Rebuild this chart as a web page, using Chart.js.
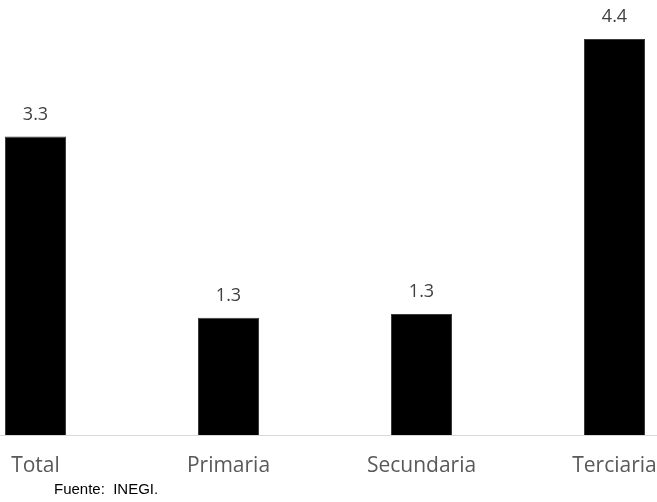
<!DOCTYPE html>
<html>
<head>
<meta charset="utf-8">
<script src="https://cdn.jsdelivr.net/npm/chart.js@4"></script>
<style>
  html, body { margin:0; padding:0; background:#fff; overflow:hidden; width:657px; height:502px; }
  #wrap { position:absolute; left:-61px; top:0; width:772px; height:502px; }
  #src { position:absolute; left:54px; top:480px; font-family:"Liberation Sans", Arial, sans-serif; font-size:15px; line-height:17px; color:#000; white-space:pre; }
</style>
</head>
<body>
<div id="wrap"><canvas id="c" width="772" height="502"></canvas></div>
<div id="src">Fuente:  INEGI.</div>
<script>
const categories = ["Total", "Primaria", "Secundaria", "Terciaria"];
const values = [3.31, 1.30, 1.34, 4.39];
const yMin = 0;
const yMax = 4.8;

const valueLabels = {
  id: 'valueLabels',
  afterDatasetsDraw(chart) {
    const ctx = chart.ctx;
    const meta = chart.getDatasetMeta(0);
    ctx.save();
    ctx.font = '18px "Open Sans", sans-serif';
    ctx.fillStyle = '#404040';
    ctx.textAlign = 'center';
    ctx.textBaseline = 'middle';
    meta.data.forEach((bar, i) => {
      ctx.fillText(values[i].toFixed(1), bar.x, bar.y - 22);
    });
    ctx.restore();
  }
};

new Chart(document.getElementById('c'), {
  type: 'bar',
  data: {
    labels: categories,
    datasets: [{
      data: values,
      backgroundColor: '#000000',
      borderColor: '#3a3a3a',
      borderWidth: 1,
      categoryPercentage: 1,
      barPercentage: 0.316
    }]
  },
  options: {
    responsive: false,
    animation: false,
    devicePixelRatio: 1,
    layout: { padding: { top: 2, left: 0, right: 0, bottom: 0 } },
    plugins: { legend: { display: false }, tooltip: { enabled: false } },
    scales: {
      x: {
        offset: true,
        grid: { display: false, drawTicks: false },
        border: { display: true, color: '#d9d9d9', width: 1 },
        ticks: { color: '#595959', font: { family: '"Open Sans", sans-serif', size: 21 }, padding: 18, maxRotation: 0 },
        afterFit(s) { s.height = 67; }
      },
      y: {
        display: false,
        min: yMin,
        max: yMax
      }
    }
  },
  plugins: [valueLabels]
});
</script>
</body>
</html>
